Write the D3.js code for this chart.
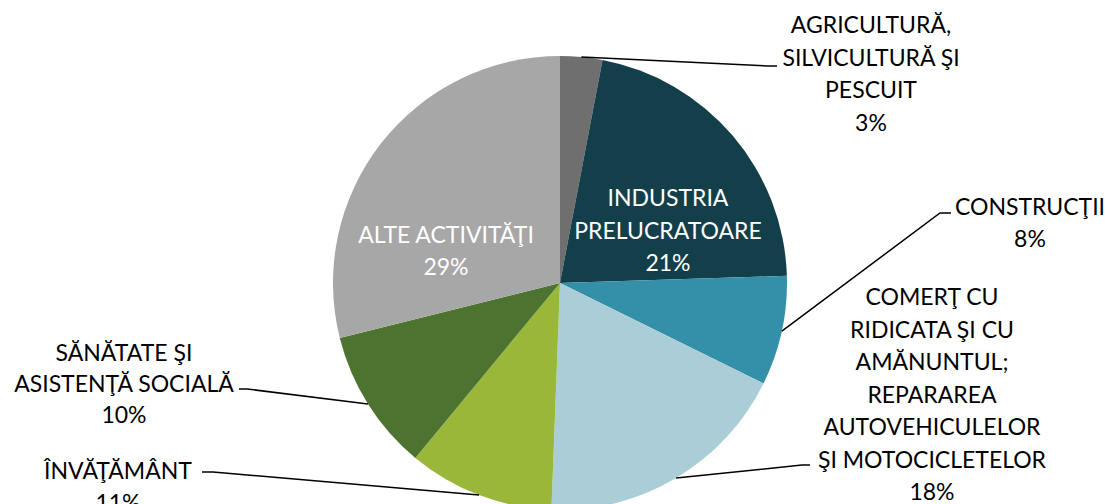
<!DOCTYPE html>
<html>
<head>
<meta charset="utf-8">
<script src="https://cdn.jsdelivr.net/npm/d3@7"></script>
<style>
  html, body { margin: 0; padding: 0; background: #fff; }
  svg { display: block; }
  text { font-family: Lato, "Open Sans", sans-serif; }
</style>
</head>
<body>
<div id="chart"></div>
<script>
// categories, clockwise from 12 o'clock
const categories = [
  ["AGRICULTURĂ,", "SILVICULTURĂ ŞI", "PESCUIT"],
  ["INDUSTRIA", "PRELUCRATOARE"],
  ["CONSTRUCŢII"],
  ["COMERŢ CU", "RIDICATA ŞI CU", "AMĂNUNTUL;", "REPARAREA", "AUTOVEHICULELOR", "ŞI MOTOCICLETELOR"],
  ["ÎNVĂŢĂMÂNT"],
  ["SĂNĂTATE ŞI", "ASISTENŢĂ SOCIALĂ"],
  ["ALTE ACTIVITĂŢI"]
];
// slice shares (%)
const shares = [3.0, 21.5, 7.8, 18.3, 10.4, 10.1, 28.9];
// percentage labels as printed
const pctLabels = ["3%", "21%", "8%", "18%", "11%", "10%", "29%"];
const colors = ["#6f6f6f", "#133f4b", "#3490a9", "#abcdd7", "#99b83a", "#4c7430", "#a7a7a7"];

const width = 1105, height = 504;
const cx = 560, cy = 283, radius = 227;

// label placement: centre x, first line centre y, line step, text colour,
// leader: elbow point and end x (null = label inside slice)
const labelLayout = [
  { x: 871, y: 25, step: 32.5, fill: "#000", elbow: [768, 66], endX: 777 },
  { x: 668, y: 198, step: 32.5, fill: "#fff", elbow: null },
  { x: 1030, y: 207, step: 32, fill: "#000", elbow: [940, 213], endX: 951 },
  { x: 932, y: 297, step: 32.5, fill: "#000", elbow: [802, 465], endX: 810 },
  { x: 118, y: 471, step: 32, fill: "#000", elbow: [213, 472], endX: 202 },
  { x: 124, y: 353, step: 31, fill: "#000", elbow: [247, 389], endX: 239 },
  { x: 446, y: 235, step: 32, fill: "#fff", elbow: null }
];

const data = shares.map((v, i) => ({ value: v, lines: categories[i], pct: pctLabels[i], color: colors[i], layout: labelLayout[i] }));

const svg = d3.select("#chart")
  .append("svg")
  .attr("width", width)
  .attr("height", height);

const pie = d3.pie().sort(null).value(d => d.value);
const arc = d3.arc().innerRadius(0).outerRadius(radius);
const arcs = pie(data);

const g = svg.append("g").attr("transform", `translate(${cx},${cy})`);

g.selectAll("path.slice")
  .data(arcs)
  .enter()
  .append("path")
  .attr("class", "slice")
  .attr("d", arc)
  .attr("fill", d => d.data.color);

// leader lines from the slice edge to the outside labels
const edgeArc = d3.arc().innerRadius(radius).outerRadius(radius);
g.selectAll("path.leader")
  .data(arcs.filter(d => d.data.layout.elbow))
  .enter()
  .append("path")
  .attr("class", "leader")
  .attr("fill", "none")
  .attr("stroke", "#000")
  .attr("stroke-width", 1.5)
  .attr("d", d => {
    const start = edgeArc.centroid(d);
    const L = d.data.layout;
    return d3.line()([
      start,
      [L.elbow[0] - cx, L.elbow[1] - cy],
      [L.endX - cx, L.elbow[1] - cy]
    ]);
  });

// labels
const labels = svg.selectAll("text.label")
  .data(arcs)
  .enter()
  .append("text")
  .attr("class", "label")
  .attr("text-anchor", "middle")
  .attr("font-size", 23)
  .attr("fill", d => d.data.layout.fill);

labels.selectAll("tspan")
  .data(d => d.data.lines.concat([d.data.pct]).map((t, i) => ({ t, i, L: d.data.layout })))
  .enter()
  .append("tspan")
  .attr("x", d => d.L.x)
  .attr("y", d => d.L.y + d.i * d.L.step)
  .attr("dy", "0.35em")
  .text(d => d.t);
</script>
</body>
</html>
